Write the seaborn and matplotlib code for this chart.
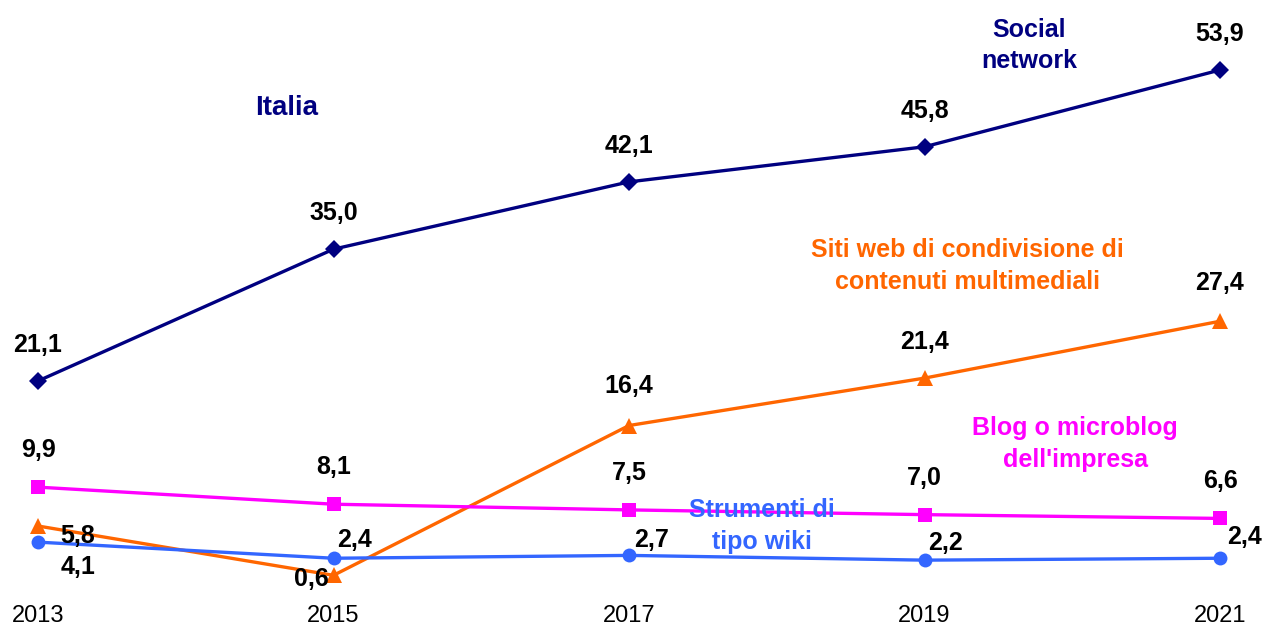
import matplotlib
matplotlib.use("Agg")
import matplotlib.pyplot as plt
import pandas as pd
import seaborn as sns

# === data ===
YEARS = [2013, 2015, 2017, 2019, 2021]
SOCIAL = [21.1, 35.0, 42.1, 45.8, 53.9]
SITI = [5.8, 0.6, 16.4, 21.4, 27.4]
BLOG = [9.9, 8.1, 7.5, 7.0, 6.6]
WIKI = [4.1, 2.4, 2.7, 2.2, 2.4]
SERIES_NAMES = ["Social\nnetwork",
                "Siti web di condivisione di\ncontenuti multimediali",
                "Blog o microblog\ndell'impresa",
                "Strumenti di\ntipo wiki"]

# === style ===
COLORS = ["#000080", "#FF6600", "#FF00FF", "#3366FF"]
MARKERS = ["D", "^", "s", "o"]
MSIZES = [9, 11, 10, 10]
# label offsets in pixels (dx, dy) for each point
OFFSETS = [
    [(0, 36)] * 5,
    [(40, -10), (-22, -4), (0, 40), (0, 36), (0, 38)],
    [(0, 37)] * 5,
    [(40, -25), (21, 18), (23, 15), (21, 17), (25, 21)],
]
# series name positions (data coords) for the text labels
NAME_POS = [(2019.71, 56.5), (2019.29, 33.2), (2020.02, 14.45), (2017.9, 5.8)]

sns.set_theme(style="white")
plt.rcParams["font.family"] = ["Liberation Sans", "DejaVu Sans"]

df = pd.DataFrame({
    "year": YEARS * 4,
    "value": SOCIAL + SITI + BLOG + WIKI,
    "serie": sum([[n] * len(YEARS) for n in SERIES_NAMES], []),
})

fig = plt.figure(figsize=(12.64, 6.28), dpi=100)
ax = fig.add_axes([38 / 1264, 47 / 628, 1182 / 1264, 511 / 628])

for i, name in enumerate(SERIES_NAMES):
    sub = df[df["serie"] == name]
    sns.lineplot(data=sub, x="year", y="value", ax=ax, color=COLORS[i],
                 marker=MARKERS[i], markersize=MSIZES[i], markeredgewidth=0,
                 linewidth=2.4, clip_on=False, legend=False)
    for (x, y), (dx, dy) in zip(zip(sub["year"], sub["value"]), OFFSETS[i]):
        ax.annotate(f"{y:.1f}".replace(".", ","), (x, y), xytext=(dx, dy),
                    textcoords="offset pixels", ha="center", va="center",
                    fontsize=18, fontweight="bold", color="black",
                    annotation_clip=False)
    nx, ny = NAME_POS[i]
    ax.text(nx, ny, name, ha="center", va="center", color=COLORS[i],
            fontsize=18, fontweight="bold", linespacing=1.4, clip_on=False)

ax.text(2014.68, 49.9, "Italia", ha="center", va="center", color="#000080",
        fontsize=20, fontweight="bold")

ax.set_xlim(2013, 2021)
ax.set_ylim(0, 53.9)
ax.set_xticks(YEARS)
ax.set_xticklabels([str(y) for y in YEARS], fontsize=17, color="black")
ax.set_yticks([])
ax.tick_params(axis="x", length=0, pad=17)
ax.set_xlabel("")
ax.set_ylabel("")
sns.despine(ax=ax, left=True, bottom=True)

fig.savefig("out.png", dpi=100)
